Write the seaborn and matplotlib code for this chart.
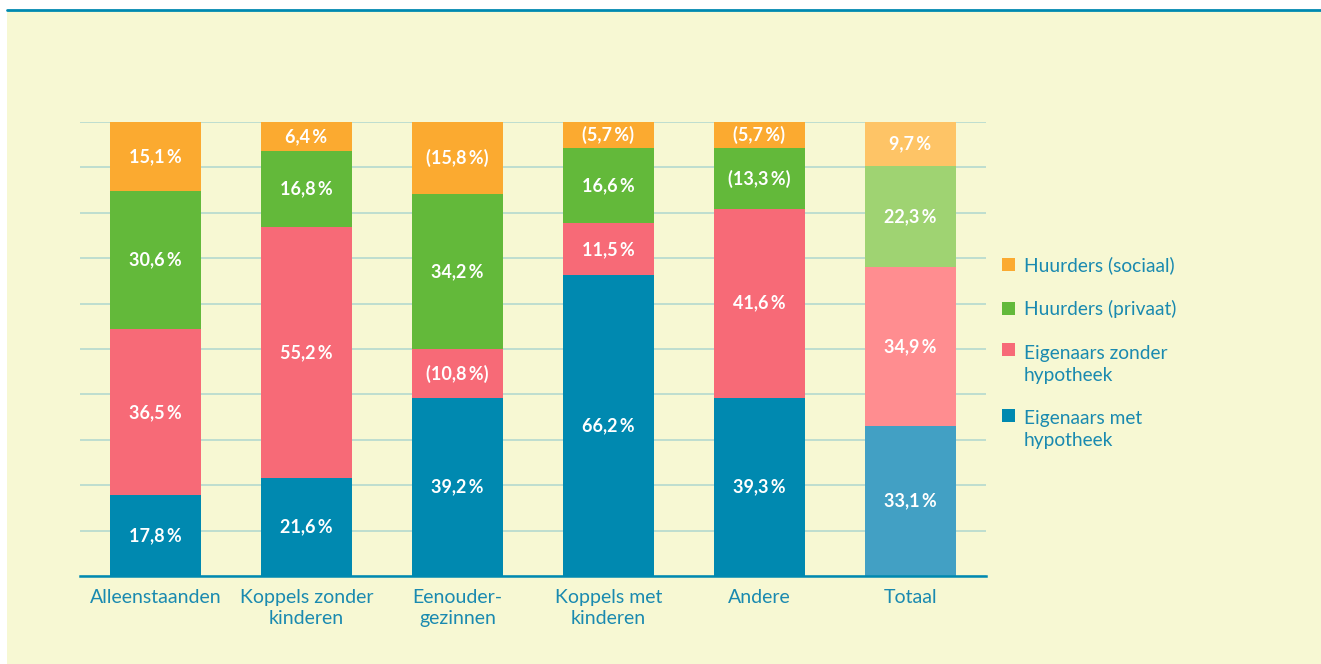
import matplotlib
matplotlib.use("Agg")
import matplotlib.pyplot as plt
import seaborn as sns
import numpy as np
import pandas as pd
from matplotlib.patches import Rectangle, Patch
from matplotlib.legend_handler import HandlerPatch
from matplotlib.lines import Line2D

categories = ["Alleenstaanden", "Koppels zonder\nkinderen", "Eenouder-\ngezinnen",
              "Koppels met\nkinderen", "Andere", "Totaal"]
eig_met = [17.8, 21.6, 39.2, 66.2, 39.3, 33.1]
eig_zonder = [36.5, 55.2, 10.8, 11.5, 41.6, 34.9]
huur_priv = [30.6, 16.8, 34.2, 16.6, 13.3, 22.3]
huur_soc = [15.1, 6.4, 15.8, 5.7, 5.7, 9.7]
# values shown between brackets in the reference (less reliable)
bracketed = {
    "eig_zonder": [False, False, True, False, False, False],
    "huur_priv": [False, False, False, False, True, False],
    "huur_soc": [False, False, True, True, True, False],
    "eig_met": [False] * 6,
}
series_names = ["Huurders (sociaal)", "Huurders (privaat)",
                "Eigenaars zonder\nhypotheek", "Eigenaars met\nhypotheek"]

BG = "#F7F8D3"
TEXT = "#1A8AB0"
col_main = {"eig_met": "#0089B0", "eig_zonder": "#F76A77",
            "huur_priv": "#63B93A", "huur_soc": "#FBAA30"}
col_tot = {"eig_met": "#42A0C4", "eig_zonder": "#FF8D90",
           "huur_priv": "#9FD372", "huur_soc": "#FEC466"}

sns.set_style("white")
plt.rcParams["font.family"] = ["Lato", "DejaVu Sans"]

fig = plt.figure(figsize=(13.21, 6.64), dpi=100)
fig.patch.set_facecolor("white")
W, H = 1321, 664
fig.patches.append(Rectangle((7 / W, 0), 1 - 7 / W, (H - 11) / H,
                             transform=fig.transFigure, facecolor=BG,
                             edgecolor="none", zorder=-10))
fig.lines.append(Line2D([7 / W, 1], [(H - 10) / H] * 2, transform=fig.transFigure,
                        color="#0089B0", lw=2))

ax = fig.add_axes([80 / W, (H - 576) / H, (986 - 80) / W, (576 - 122) / H])
ax.set_facecolor("none")

keys = ["eig_met", "eig_zonder", "huur_priv", "huur_soc"]
vals = {"eig_met": eig_met, "eig_zonder": eig_zonder,
        "huur_priv": huur_priv, "huur_soc": huur_soc}
cum = {}
running = np.zeros(len(categories))
for k in keys:
    running = running + np.array(vals[k])
    cum[k] = running.copy()

# draw from top layer down so lower layers overlay
for k in reversed(keys):
    df = pd.DataFrame({"cat": categories, "val": cum[k]})
    pal = [col_main[k]] * (len(categories) - 1) + [col_tot[k]]
    sns.barplot(data=df, x="cat", y="val", hue="cat", palette=pal, legend=False,
                width=0.6, ax=ax, saturation=1, zorder=3, linewidth=0)

# labels
for k in keys:
    bottoms = cum[k] - np.array(vals[k])
    for i, v in enumerate(vals[k]):
        s = f"{v:.1f}".replace(".", ",") + "\u2009%"
        if bracketed[k][i]:
            s = "(" + s + ")"
        ax.text(i, bottoms[i] + v / 2, s, ha="center", va="center", color="white",
                fontsize=13, fontweight="bold", zorder=5)

ax.set_ylim(0, 100)
ax.set_xlim(-0.5, len(categories) - 0.5)
ax.set_yticks(np.arange(0, 101, 10))
ax.set_yticklabels([])
ax.yaxis.grid(True, color="#B9DCCF", lw=1.3, zorder=0)
ax.set_axisbelow(True)
ax.set_xlabel("")
ax.set_ylabel("")
for sp in ["left", "right", "top"]:
    ax.spines[sp].set_visible(False)
ax.spines["bottom"].set_color("#0089B0")
ax.spines["bottom"].set_linewidth(1.8)
ax.spines["bottom"].set_zorder(6)
ax.tick_params(axis="x", length=0, pad=9.5, labelsize=14, labelcolor=TEXT)
ax.tick_params(axis="y", length=0)
for t in ax.get_xticklabels():
    t.set_linespacing(1.3)


class ShiftHandler(HandlerPatch):
    def __init__(self, shift, **kw):
        super().__init__(**kw)
        self.shift = shift

    def create_artists(self, legend, orig_handle, xdescent, ydescent, width,
                       height, fontsize, trans):
        r = Rectangle((-xdescent, -ydescent + self.shift * fontsize), width, height,
                      facecolor=orig_handle.get_facecolor(), edgecolor="none",
                      transform=trans)
        return [r]


leg_colors = [col_main["huur_soc"], col_main["huur_priv"],
              col_main["eig_zonder"], col_main["eig_met"]]
handles = [Patch(facecolor=c, edgecolor="none") for c in leg_colors]
hmap = {handles[0]: ShiftHandler(0), handles[1]: ShiftHandler(0),
        handles[2]: ShiftHandler(0.77), handles[3]: ShiftHandler(0.77)}
leg = fig.legend(handles, series_names, handler_map=hmap, loc="upper left",
                 bbox_to_anchor=(1002 / W, 1 - 256 / H), frameon=False,
                 fontsize=13.8, handlelength=0.68, handleheight=0.68,
                 handletextpad=0.45, labelspacing=1.38, borderpad=0,
                 borderaxespad=0)
for t in leg.get_texts():
    t.set_color(TEXT)
    t.set_linespacing(1.36)

fig.savefig("out.png", dpi=100, facecolor=fig.get_facecolor())
